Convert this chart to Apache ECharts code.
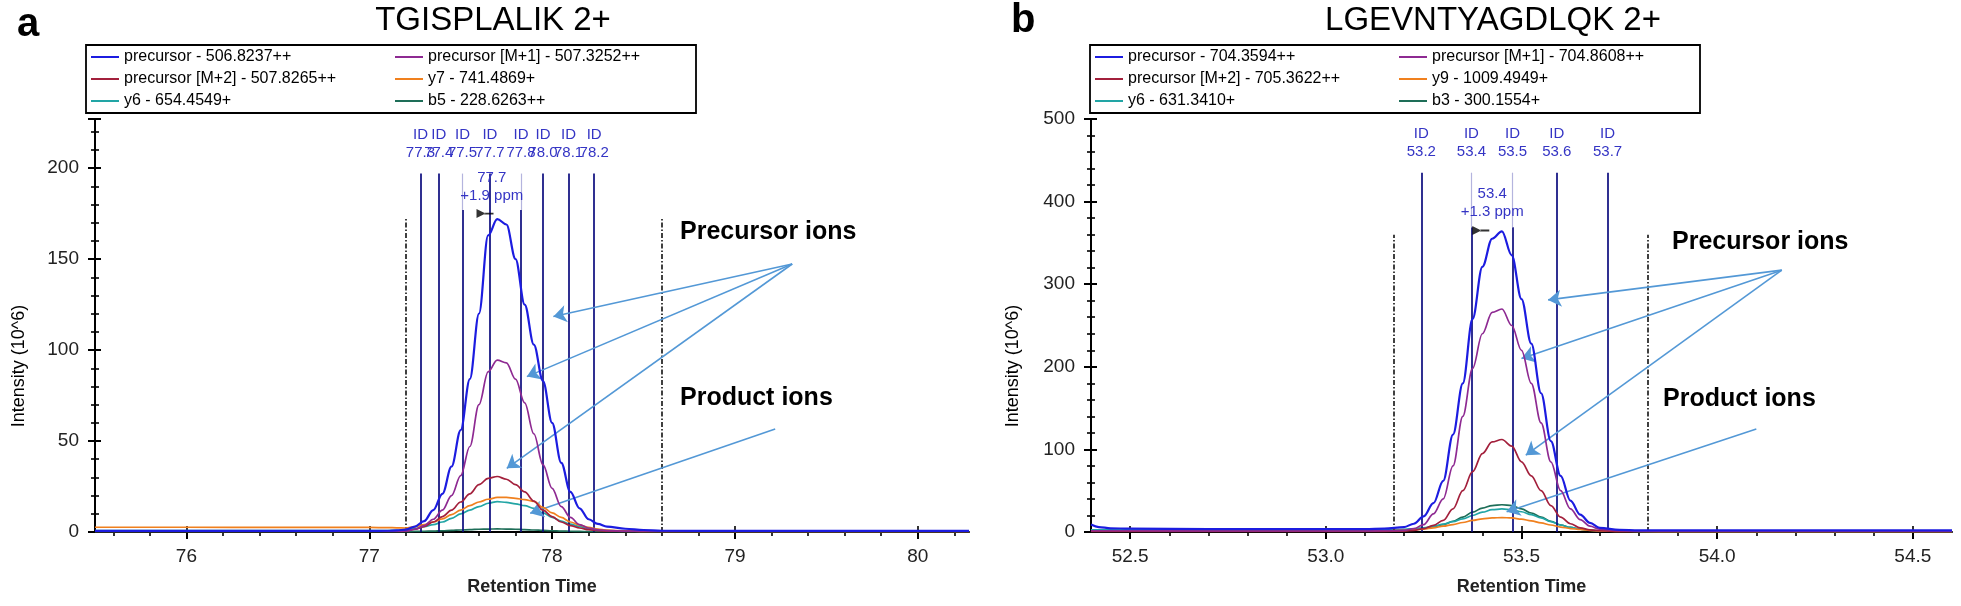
<!DOCTYPE html>
<html><head><meta charset="utf-8">
<script src="https://cdn.jsdelivr.net/npm/echarts@6/dist/echarts.min.js"></script>
<style>html,body{margin:0;padding:0;background:#fff}#c{width:1961px;height:606px}</style>
</head><body><div id="c"></div>
<script>
// ================= DATA =================
const leftTimes = [75.5, 76.0, 76.5, 77.0, 77.1, 77.15, 77.2, 77.25, 77.3, 77.35, 77.4, 77.45, 77.5, 77.55, 77.6, 77.65, 77.7, 77.75, 77.8, 77.85, 77.9, 77.95, 78.0, 78.05, 78.1, 78.15, 78.2, 78.25, 78.3, 78.4, 78.5, 78.6, 79.0, 79.5, 80.0, 80.28];
const leftPrecursor = [0.6, 0.6, 0.6, 0.6, 0.7, 0.9, 1.3, 3, 6, 12, 21, 36, 56, 84, 120, 163, 172, 169, 150, 125, 103, 83, 60, 38, 22, 13, 7, 4.5, 3, 1.8, 1.1, 0.7, 0.6, 0.6, 0.6, 0.6];
const leftM1 = [0.4, 0.4, 0.4, 0.4, 0.4, 0.4, 0.6, 1.5, 3.5, 7, 12, 20, 31, 47, 70, 88, 94.5, 93, 84, 71, 54, 37, 24, 14, 8, 4, 2.2, 1.2, 0.8, 0.5, 0.4, 0.4, 0.4, 0.4, 0.4, 0.4];
const leftM2 = [0.3, 0.3, 0.3, 0.3, 0.3, 0.3, 0.4, 1.5, 3, 5.5, 8.5, 12, 16.5, 21, 26, 29.5, 30.5, 29, 26, 22, 17, 12, 8.5, 5.5, 3.5, 2.2, 1.3, 0.8, 0.5, 0.3, 0.3, 0.3, 0.3, 0.3, 0.3, 0.3];
const leftY7 = [2.6, 2.6, 2.5, 2.5, 2.4, 2.3, 2.2, 3, 4, 5.5, 7.2, 9.5, 12, 14.5, 16.5, 18, 19, 19, 18.5, 17.8, 16.8, 13.5, 10.5, 8, 5.5, 3.8, 2.5, 1.6, 1, 0.5, 0.3, 0.3, 0.3, 0.3, 0.3, 0.3];
const leftY6 = [0.8, 0.8, 0.8, 0.8, 0.8, 0.9, 1.2, 2, 3, 4, 5.5, 7.5, 10, 12, 14, 15.8, 16.7, 16.3, 15.5, 14.5, 13, 10.5, 8, 6, 4.3, 3, 2, 1.3, 0.8, 0.5, 0.4, 0.4, 0.4, 0.4, 0.4, 0.4];
const leftB5 = [0.2, 0.2, 0.2, 0.2, 0.2, 0.2, 0.2, 0.3, 0.4, 0.5, 0.7, 0.9, 1.1, 1.3, 1.5, 1.6, 1.7, 1.6, 1.5, 1.3, 1.1, 0.9, 0.7, 0.5, 0.4, 0.3, 0.2, 0.2, 0.2, 0.2, 0.2, 0.2, 0.2, 0.2, 0.2, 0.2];

const rightTimes = [52.4, 52.42, 52.45, 52.5, 52.7, 52.9, 53.1, 53.15, 53.2, 53.225, 53.25, 53.275, 53.3, 53.325, 53.35, 53.375, 53.4, 53.425, 53.45, 53.475, 53.5, 53.525, 53.55, 53.575, 53.6, 53.625, 53.65, 53.675, 53.7, 53.75, 53.8, 53.9, 54.0, 54.2, 54.4, 54.6];
const rightPrecursor = [9, 6, 4.5, 4, 3.5, 3.5, 3.5, 4, 6, 10, 19, 35, 62, 118, 180, 258, 321, 355, 364, 335, 282, 228, 168, 110, 68, 38, 21, 11, 5, 2.5, 2, 2, 2, 2, 2, 2];
const rightM1 = [1.5, 1.5, 1.5, 1.5, 1.2, 1.2, 1.2, 1.5, 2, 4, 9, 22, 40, 80, 140, 198, 240, 266, 270, 250, 220, 180, 132, 85, 50, 28, 15, 7, 3.5, 1.5, 1, 1, 1, 1, 1, 1];
const rightM2 = [0.8, 0.8, 0.8, 0.8, 0.8, 0.8, 0.8, 0.8, 1, 2, 4, 8, 14, 28, 50, 73, 95, 109, 112, 104, 85, 68, 50, 32, 18, 10, 5, 2.5, 1.5, 0.8, 0.6, 0.6, 0.6, 0.6, 0.6, 0.6];
const rightY9 = [1.5, 1.5, 1.5, 1.5, 1.5, 1.5, 1.5, 1.5, 2, 2.5, 3.5, 5, 7, 9, 11.5, 14, 16, 17, 17.5, 17, 15.5, 13.5, 11, 8.5, 6, 4.2, 3, 2, 1.4, 0.8, 0.6, 0.5, 0.5, 0.5, 0.5, 0.5];
const rightY6 = [2.5, 2.5, 2.5, 2.5, 2.5, 2.5, 2.5, 2.5, 3, 3.8, 5, 7, 9.5, 12.5, 16, 20, 24, 27, 28, 27, 24.5, 21, 17, 12.5, 8.5, 5.5, 3.5, 2.2, 1.5, 1, 0.8, 0.6, 0.6, 0.6, 0.6, 0.6];
const rightB3 = [2, 2, 2, 2, 2, 2, 2, 2.2, 2.8, 3.5, 4.5, 6.5, 9, 13, 18, 24, 29, 32, 33, 32, 28, 23, 18, 13, 8.5, 5.5, 3.5, 2.2, 1.5, 1, 0.8, 0.6, 0.6, 0.6, 0.6, 0.6];

const leftNames = ['precursor - 506.8237++', 'precursor [M+1] - 507.3252++', 'precursor [M+2] - 507.8265++', 'y7 - 741.4869+', 'y6 - 654.4549+', 'b5 - 228.6263++'];
const rightNames = ['precursor - 704.3594++', 'precursor [M+1] - 704.8608++', 'precursor [M+2] - 705.3622++', 'y9 - 1009.4949+', 'y6 - 631.3410+', 'b3 - 300.1554+'];

const leftMajorTicks = [76, 77, 78, 79, 80];
const leftMinorTicks = [75.6, 75.8, 76.2, 76.4, 76.6, 76.8, 77.2, 77.4, 77.6, 77.8, 78.2, 78.4, 78.6, 78.8, 79.2, 79.4, 79.6, 79.8, 80.2];
const rightMajorTicks = [52.5, 53.0, 53.5, 54.0, 54.5];
const rightMinorTicks = [52.6, 52.7, 52.8, 52.9, 53.1, 53.2, 53.3, 53.4, 53.6, 53.7, 53.8, 53.9, 54.1, 54.2, 54.3, 54.4];

// MS2 identification scans
const leftIdTimes = [77.28, 77.38, 77.51, 77.66, 77.83, 77.95, 78.09, 78.23];
const leftIdLabels = ['77.3', '77.4', '77.5', '77.7', '77.8', '78.0', '78.1', '78.2'];
const rightIdTimes = [53.244, 53.372, 53.477, 53.59, 53.72];
const rightIdLabels = ['53.2', '53.4', '53.5', '53.6', '53.7'];

// integration boundaries
const leftBoundaries = [77.2, 78.6];
const rightBoundaries = [53.174, 53.823];

// peak apex annotations
const leftApex = {time: 77.633, value: 175, text: '77.7\n+1.9 ppm', labelTime: 77.67, labelValue: 189.5, bracket: [77.51, 77.83]};
const rightApex = {time: 53.396, value: 365, text: '53.4\n+1.3 ppm', labelTime: 53.425, labelValue: 399, bracket: [53.372, 53.477]};

// callout arrows [from, to] in data units
const leftArrows = [[[79.313, 147.3], [78.007, 118.4]], [[79.313, 147.3], [77.862, 85.4]], [[79.313, 147.3], [77.752, 35]], [[79.22, 56.6], [77.88, 10.3]]];
const rightArrows = [[[54.165, 317], [53.568, 281]], [[54.165, 317], [53.50, 210]], [[54.165, 317], [53.511, 93]], [[54.10, 124.7], [53.462, 24.6]]];

// ================= STYLE =================
const FONT = "'Liberation Sans', Arial, sans-serif";
const COLORS = ['#1c1ce0', '#8e2a92', '#a3203c', '#f0801e', '#22a5a5', '#1e6e58'];
const ID_LINE = '#0b0b7e';
const ID_TEXT = '#3434c4';
const PALE = '#b4b4de';
const ARROW = '#5398d6';

function curveSeries(names, times, vals, xi, yi) {
  const order = [5, 4, 3, 2, 1, 0];
  return order.map(k => ({
    type: 'line', name: names[k], xAxisIndex: xi, yAxisIndex: yi,
    data: times.map((t, j) => [t, vals[k][j]]),
    symbol: 'none', showSymbol: false, smooth: 0.35, smoothMonotone: 'x',
    color: COLORS[k],
    lineStyle: {width: k === 0 ? 2.2 : 1.7, color: COLORS[k]},
    silent: true, animation: false, z: 3 + (5 - k)
  }));
}

function markLines(p) {
  const out = [];
  p.boundaries.forEach(t => out.push([
    {coord: [t, 0], lineStyle: {color: '#111', width: 1.6, type: [5, 2, 1.5, 2]}, label: {show: false}},
    {coord: [t, p.boundTop]}
  ]));
  p.idTimes.forEach((t, i) => {
    const lab = {show: true, position: 'end', distance: 12, formatter: 'ID\n' + p.idLabels[i],
      color: ID_TEXT, fontSize: 15, lineHeight: 18, fontFamily: FONT};
    const inBr = p.apex.bracket.indexOf(t) >= 0;
    if (inBr) {
      out.push([{coord: [t, 0], lineStyle: {color: ID_LINE, width: 1.7, type: 'solid'}, label: {show: false}}, {coord: [t, p.bracketFrom]}]);
      out.push([{coord: [t, p.bracketFrom], lineStyle: {color: PALE, width: 1.2, type: 'solid'}, label: lab}, {coord: [t, p.idTop]}]);
    } else {
      out.push([{coord: [t, 0], lineStyle: {color: ID_LINE, width: 1.7, type: 'solid'}, label: lab}, {coord: [t, p.idTop]}]);
    }
  });
  p.arrows.forEach(a => out.push([
    {coord: a[0], symbol: 'none', lineStyle: {color: ARROW, width: 1.6, type: 'solid'}, label: {show: false}},
    {coord: a[1], symbol: 'arrow', symbolSize: 13}
  ]));
  return out;
}

function annotationSeries(p, xi, yi) {
  return {
    type: 'scatter', name: 'apex', xAxisIndex: xi, yAxisIndex: yi, silent: true, animation: false, z: 20,
    data: [[p.apex.time, p.apex.value]],
    symbol: 'path://M0,0 L0,10 L9,5 Z M8,4 L17,4 L17,6 L8,6 Z', symbolSize: [17, 9],
    itemStyle: {color: '#000'},
    markLine: {silent: true, animation: false, symbol: ['none', 'none'], data: markLines(p)},
    markPoint: {silent: true, animation: false, symbol: 'circle', symbolSize: 1, itemStyle: {color: 'rgba(0,0,0,0)'},
      data: [{coord: [p.apex.labelTime, p.apex.labelValue],
        label: {show: true, position: 'inside', formatter: p.apex.text, color: ID_TEXT, fontSize: 15, lineHeight: 18, fontFamily: FONT}}]}
  };
}

const leftP = {boundaries: leftBoundaries, boundTop: 173, idTimes: leftIdTimes, idLabels: leftIdLabels, idTop: 197, bracketFrom: 177, apex: leftApex, arrows: leftArrows};
const rightP = {boundaries: rightBoundaries, boundTop: 360, idTimes: rightIdTimes, idLabels: rightIdLabels, idTop: 435, bracketFrom: 369, apex: rightApex, arrows: rightArrows};

function xMajor(gi, min, max, ticks, fmt) {
  return {gridIndex: gi, type: 'value', min: min, max: max, position: 'bottom',
    axisLine: {show: true, onZero: false, lineStyle: {color: '#000', width: 2}},
    axisTick: {show: true, customValues: ticks, length: 7, lineStyle: {color: '#000', width: 2}},
    axisLabel: {show: true, customValues: ticks, formatter: fmt, fontSize: 19, color: '#222', margin: 15, fontFamily: FONT},
    splitLine: {show: false},
    name: 'Retention Time', nameLocation: 'middle', nameGap: 46,
    nameTextStyle: {fontSize: 18, fontWeight: 'bold', color: '#222', fontFamily: FONT}};
}
function xTicks(gi, min, max, ticks, len, inside) {
  return {gridIndex: gi, type: 'value', min: min, max: max, position: 'bottom',
    axisLine: {show: false, onZero: false},
    axisTick: {show: true, inside: inside, customValues: ticks, length: len, lineStyle: {color: '#000', width: 1.6}},
    axisLabel: {show: false}, splitLine: {show: false}};
}
function yMain(gi, max, interval) {
  return {gridIndex: gi, type: 'value', min: 0, max: max, interval: interval, position: 'left',
    axisLine: {show: true, onZero: false, lineStyle: {color: '#000', width: 2}},
    axisTick: {show: true, length: 7, lineStyle: {color: '#000', width: 2}},
    minorTick: {show: true, splitNumber: 5, length: 4, lineStyle: {color: '#000', width: 1.6}},
    axisLabel: {fontSize: 19, color: '#222', margin: 16, fontFamily: FONT, showMaxLabel: max % interval === 0},
    splitLine: {show: false}, minorSplitLine: {show: false}};
}
function yInside(gi, max, interval) {
  return {gridIndex: gi, type: 'value', min: 0, max: max, interval: interval, position: 'left',
    axisLine: {show: false, onZero: false},
    axisTick: {show: true, inside: true, length: 6, lineStyle: {color: '#000', width: 2}},
    minorTick: {show: true, splitNumber: 5, length: 4, lineStyle: {color: '#000', width: 1.6}},
    axisLabel: {show: false}, splitLine: {show: false}, minorSplitLine: {show: false}};
}
function legend(names, left) {
  return {left: left, top: 45, width: 612, orient: 'horizontal', data: names, selectedMode: false,
    icon: 'rect', itemWidth: 28, itemHeight: 2, itemGap: 6,
    borderColor: '#000', borderWidth: 1.8, padding: [4, 3, 4, 5], backgroundColor: '#fff',
    textStyle: {fontSize: 16, width: 265, color: '#000', lineHeight: 16, fontFamily: FONT}};
}
function txt(x, y, s, size, weight, align, rot) {
  return {type: 'text', x: x, y: y, rotation: rot || 0, silent: true, z: 50,
    style: {text: s, fill: '#000', fontSize: size, fontWeight: weight || 'normal', fontFamily: FONT,
      align: align || 'left', verticalAlign: 'middle', textAlign: align || 'left', textVerticalAlign: 'middle'}};
}

const option = {
  animation: false,
  backgroundColor: '#fff',
  grid: [
    {left: 95, top: 119, width: 874, height: 413},
    {left: 1091, top: 119, width: 861, height: 413}
  ],
  xAxis: [
    xMajor(0, 75.5, 80.28, leftMajorTicks, v => String(v)),
    xTicks(0, 75.5, 80.28, leftMinorTicks, 4, false),
    xMajor(1, 52.4, 54.6, rightMajorTicks, v => Number(v).toFixed(1)),
    xTicks(1, 52.4, 54.6, rightMinorTicks, 4, false),
    xTicks(0, 75.5, 80.28, leftMajorTicks, 6, true),
    xTicks(1, 52.4, 54.6, rightMajorTicks, 6, true)
  ],
  yAxis: [yMain(0, 227, 50), yMain(1, 500, 100), yInside(0, 227, 50), yInside(1, 500, 100)],
  legend: [legend(leftNames, 86), legend(rightNames, 1090)],
  graphic: [
    txt(17, 25, 'a', 40, 'bold'),
    txt(1011, 21, 'b', 40, 'bold'),
    txt(493, 21, 'TGISPLALIK 2+', 33, 'normal', 'center'),
    txt(1493, 21, 'LGEVNTYAGDLQK 2+', 33, 'normal', 'center'),
    txt(680, 232, 'Precursor ions', 25, 'bold'),
    txt(680, 398, 'Product ions', 25, 'bold'),
    txt(1672, 242, 'Precursor ions', 25, 'bold'),
    txt(1663, 399, 'Product ions', 25, 'bold'),
    txt(19, 366, 'Intensity (10^6)', 18, 'normal', 'center', Math.PI / 2),
    txt(1013, 366, 'Intensity (10^6)', 18, 'normal', 'center', Math.PI / 2)
  ],
  series: [].concat(
    curveSeries(leftNames, leftTimes, [leftPrecursor, leftM1, leftM2, leftY7, leftY6, leftB5], 0, 0),
    curveSeries(rightNames, rightTimes, [rightPrecursor, rightM1, rightM2, rightY9, rightY6, rightB3], 2, 1),
    [annotationSeries(leftP, 0, 0), annotationSeries(rightP, 2, 1)]
  )
};

const chart = echarts.init(document.getElementById('c'), null, {renderer: 'canvas', width: 1961, height: 606});
chart.setOption(option);
</script>
</body></html>
